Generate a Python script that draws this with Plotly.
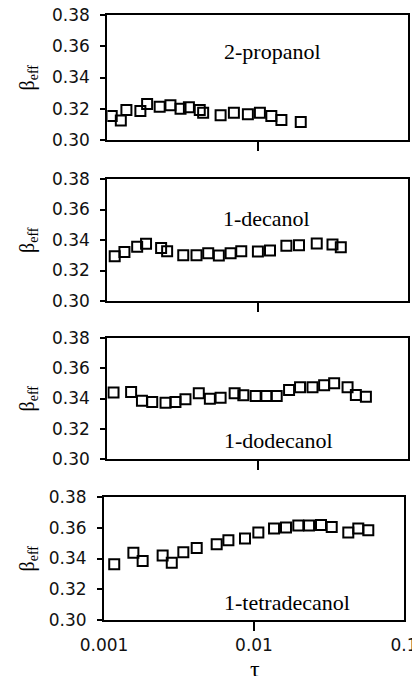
import plotly.graph_objects as go

# ---------------- data ----------------
names = ["2-propanol", "1-decanol", "1-dodecanol", "1-tetradecanol"]

tau_propanol = [0.00107, 0.00123, 0.00134, 0.00166, 0.00184, 0.00223, 0.00263, 0.00307, 0.00349,
                0.00412, 0.00434, 0.00567, 0.00695, 0.00861, 0.01035, 0.01233, 0.01439, 0.01935]
beta_propanol = [0.3154, 0.3124, 0.3192, 0.3186, 0.3230, 0.3213, 0.3222, 0.3200, 0.3209,
                 0.3192, 0.3175, 0.3158, 0.3175, 0.3164, 0.3175, 0.3154, 0.3128, 0.3115]

tau_decanol = [0.00112, 0.00130, 0.00158, 0.00181, 0.00228, 0.00250, 0.00320, 0.00392, 0.00469, 0.00552,
               0.00661, 0.00778, 0.01004, 0.01208, 0.01553, 0.01884, 0.02472, 0.03146, 0.03573]
beta_decanol = [0.3293, 0.3322, 0.3355, 0.3375, 0.3348, 0.3326, 0.3300, 0.3300, 0.3313, 0.3298,
                0.3313, 0.3326, 0.3324, 0.3331, 0.3362, 0.3366, 0.3377, 0.3370, 0.3352]

tau_dodecanol = [0.00110, 0.00144, 0.00170, 0.00199, 0.00244, 0.00284, 0.00331, 0.00406, 0.00481, 0.00567,
                 0.00703, 0.00803, 0.00970, 0.01143, 0.01339, 0.01618, 0.01914, 0.02316, 0.02768, 0.03227,
                 0.03963, 0.04500, 0.05248]
beta_dodecanol = [0.3439, 0.3443, 0.3385, 0.3377, 0.3372, 0.3377, 0.3395, 0.3434, 0.3399, 0.3405,
                  0.3434, 0.3421, 0.3417, 0.3417, 0.3417, 0.3456, 0.3474, 0.3474, 0.3488, 0.3501,
                  0.3474, 0.3423, 0.3412]

tau_tetradecanol = [0.00117, 0.00157, 0.00181, 0.00246, 0.00283, 0.00338, 0.00415, 0.00564, 0.00675, 0.00871,
                    0.01069, 0.01360, 0.01634, 0.01974, 0.02328, 0.02797, 0.03297, 0.04253, 0.04958, 0.05781]
beta_tetradecanol = [0.3363, 0.3437, 0.3383, 0.3420, 0.3372, 0.3441, 0.3469, 0.3493, 0.3519, 0.3530,
                     0.3569, 0.3595, 0.3601, 0.3614, 0.3614, 0.3618, 0.3605, 0.3569, 0.3595, 0.3584]

y_ticks = [0.30, 0.32, 0.34, 0.36, 0.38]
x_ticks = [0.001, 0.01, 0.1]
x_tick_text = ["0.001", "0.01", "0.1"]

series = [(tau_propanol, beta_propanol), (tau_decanol, beta_decanol),
          (tau_dodecanol, beta_dodecanol), (tau_tetradecanol, beta_tetradecanol)]

# ---------------- layout geometry ----------------
W, H = 412, 676
ydoms = [(15, 140), (179, 301), (338, 459), (497, 620)]
xdoms = [(107.3, 408), (107.3, 408), (107.3, 408), (104, 404)]
label_pos = [(0.548, 0.71), (0.531, 0.675), (0.568, 0.155), (0.61, 0.146)]

tick_font = dict(family="DejaVu Sans", size=17, color="#111111")
serif = "Liberation Serif, Times New Roman, serif"

fig = go.Figure()
layout = dict(width=W, height=H, margin=dict(l=0, r=0, t=0, b=0),
              paper_bgcolor="white", plot_bgcolor="white", showlegend=False,
              annotations=[])

for i, ((xs, ys), name) in enumerate(zip(series, names)):
    k = i + 1
    sx = "" if k == 1 else str(k)
    fig.add_trace(go.Scatter(
        x=xs, y=ys, mode="markers", xaxis="x" + sx, yaxis="y" + sx,
        marker=dict(symbol="square-open", size=10, color="black", line=dict(width=2, color="black")),
        showlegend=False, hoverinfo="skip"))
    y0, y1 = ydoms[i]
    x0, x1 = xdoms[i]
    layout["xaxis" + sx] = dict(
        type="log", range=[-3, -1], domain=[x0 / W, x1 / W], anchor="y" + sx,
        showline=True, mirror=True, linecolor="black", linewidth=2,
        showgrid=False, zeroline=False,
        tickvals=[0.01], ticks="outside", ticklen=9, tickwidth=2, tickcolor="black",
        showticklabels=False, automargin=False, fixedrange=True)
    layout["yaxis" + sx] = dict(
        range=[0.30, 0.38], domain=[(H - y1) / H, (H - y0) / H], anchor="x" + sx,
        showline=True, mirror=True, linecolor="black", linewidth=2,
        showgrid=False, zeroline=False,
        tickvals=y_ticks, tickformat=".2f", ticks="outside", ticklen=5, tickwidth=2,
        tickcolor="black", tickfont=tick_font, ticklabelstandoff=7,
        automargin=False, fixedrange=True)
    lx, ly = label_pos[i]
    layout["annotations"].append(dict(
        text=name, xref="x%s domain" % sx, yref="y%s domain" % sx, x=lx, y=ly,
        xanchor="center", yanchor="middle", showarrow=False,
        font=dict(family=serif, size=22, color="black")))
    layout["annotations"].append(dict(
        text="β<sub>eff</sub>", xref="paper", yref="paper", x=28 / W,
        y=(H - (y0 + y1) / 2) / H, xanchor="center", yanchor="middle",
        textangle=-90, showarrow=False,
        font=dict(family=serif, size=20, color="black")))

# overlay axis carrying the bottom tick labels (no tick marks at corners)
fig.add_trace(go.Scatter(x=[], y=[], xaxis="x5", yaxis="y4", showlegend=False, hoverinfo="skip"))
x0, x1 = xdoms[3]
layout["xaxis5"] = dict(
    type="log", range=[-3, -1], domain=[x0 / W, x1 / W], anchor="y4", overlaying="x4", side="bottom",
    showline=False, showgrid=False, zeroline=False,
    tickvals=x_ticks, ticktext=x_tick_text, ticks="", tickfont=tick_font,
    ticklabelstandoff=13, ticklabeloverflow="allow", automargin=False, fixedrange=True)

layout["annotations"].append(dict(
    text="τ", xref="paper", yref="paper", x=255 / W, y=(H - 654) / H,
    xanchor="center", yanchor="top", showarrow=False,
    font=dict(family=serif, size=24, color="black")))

fig.update_layout(**layout)
fig.write_html("out.html")
